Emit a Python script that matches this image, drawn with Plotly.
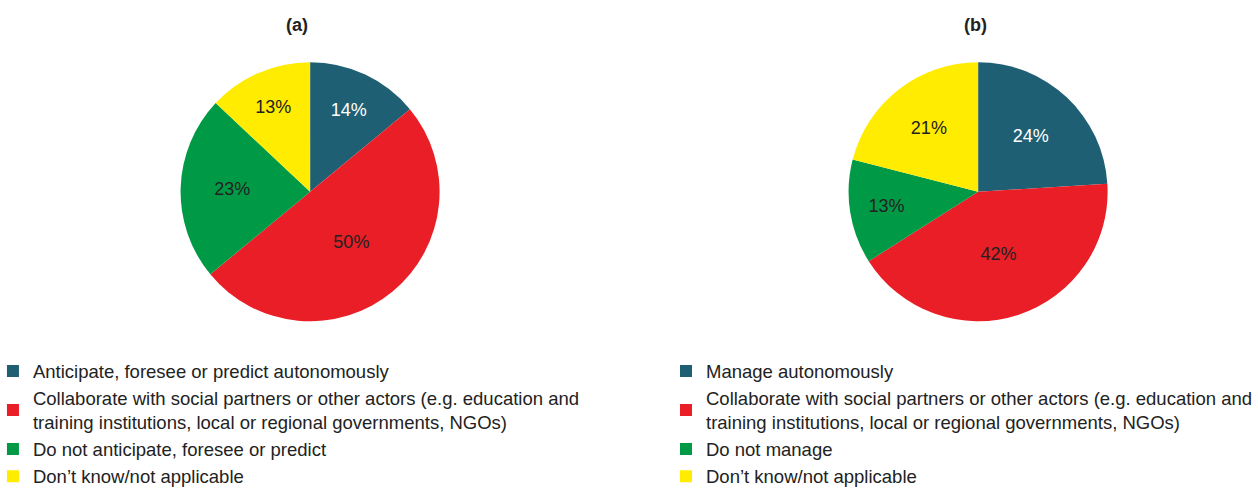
import plotly.graph_objects as go

# Data
labels_a = [
    "Anticipate, foresee or predict autonomously",
    "Collaborate with social partners or other actors (e.g. education and<br>training institutions, local or regional governments, NGOs)",
    "Do not anticipate, foresee or predict",
    "Don\u2019t know/not applicable",
]
values_a = [14, 50, 23, 13]

labels_b = [
    "Manage autonomously",
    "Collaborate with social partners or other actors (e.g. education and<br>training institutions, local or regional governments, NGOs)",
    "Do not manage",
    "Don\u2019t know/not applicable",
]
values_b = [24, 42, 13, 21]

titles = ["(a)", "(b)"]
colors = ["#1F5F73", "#E91E26", "#009A46", "#FFEC00"]
text_colors = ["#FFFFFF", "#222222", "#222222", "#222222"]

FONT = "Liberation Sans, Arial, sans-serif"

fig = go.Figure()
fig.add_trace(go.Pie(
    labels=labels_a, values=values_a, sort=False, direction="clockwise", rotation=0,
    marker=dict(colors=colors, line=dict(width=0)),
    texttemplate="%{value}%", textposition="inside",
    textfont=dict(family=FONT, size=18, color=text_colors),
    insidetextorientation="horizontal",
    domain=dict(x=[0.10, 0.393], y=[0.36, 0.876]),
    legend="legend", hoverinfo="label+value",
))
# zero-width suffix keeps the two pies' legend entries separate
fig.add_trace(go.Pie(
    labels=[l + "\u200b" for l in labels_b], values=values_b, sort=False, direction="clockwise", rotation=0,
    marker=dict(colors=colors, line=dict(width=0)),
    texttemplate="%{value}%", textposition="inside",
    textfont=dict(family=FONT, size=18, color=text_colors),
    insidetextorientation="horizontal",
    domain=dict(x=[0.63, 0.925], y=[0.36, 0.876]),
    legend="legend2", hoverinfo="label+value",
))

leg_common = dict(
    yanchor="top", xanchor="left", orientation="v", valign="middle",
    font=dict(family=FONT, size=18.5, color="#222222"),
    bgcolor="rgba(0,0,0,0)", itemclick=False, itemdoubleclick=False,
)
fig.update_layout(
    width=1258, height=502,
    margin=dict(l=0, r=0, t=0, b=0, autoexpand=False),
    paper_bgcolor="white", plot_bgcolor="white",
    font=dict(family=FONT),
    legend=dict(x=-0.0056, y=0.298, **leg_common),
    legend2=dict(x=0.5294, y=0.298, **leg_common),
    annotations=[
        dict(text="<b>" + titles[0] + "</b>", x=297 / 1258, y=1 - 25 / 502, xref="paper", yref="paper",
             xanchor="center", yanchor="middle",
             showarrow=False, font=dict(family=FONT, size=18, color="#222222")),
        dict(text="<b>" + titles[1] + "</b>", x=975 / 1258, y=1 - 25 / 502, xref="paper", yref="paper",
             xanchor="center", yanchor="middle",
             showarrow=False, font=dict(family=FONT, size=18, color="#222222")),
    ],
)

fig.write_html("out.html", config={"displayModeBar": False},
               post_script="document.body.style.margin='0';")
